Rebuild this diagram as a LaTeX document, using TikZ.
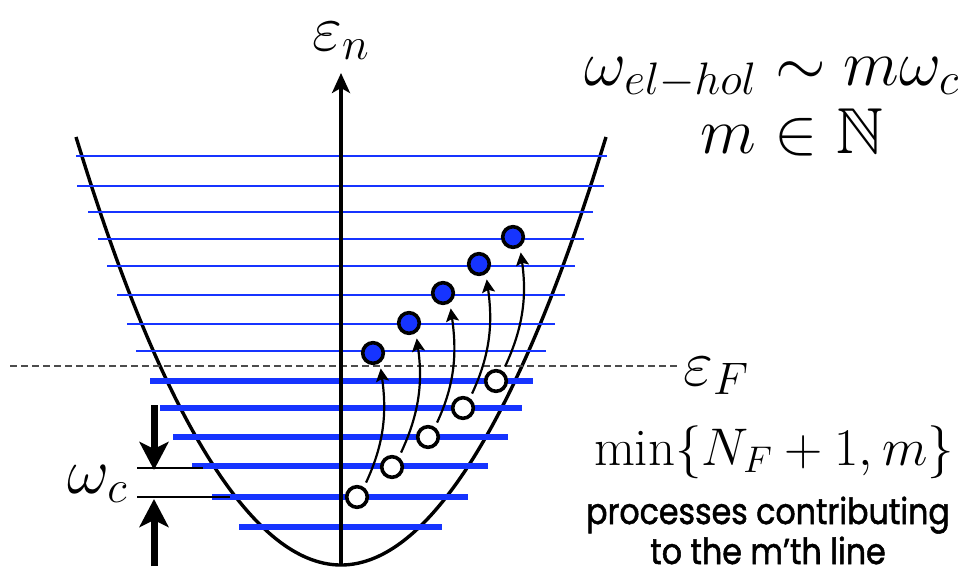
\RequirePackage{fix-cm}
\documentclass[tikz,border=0pt]{standalone}
\usepackage{amssymb}
\DeclareFontFamily{U}{msb}{}
\DeclareFontShape{U}{msb}{m}{n}{<-> msbm10}{}
\usepackage{fontspec}
\newfontfamily\procfont{Poppins}[FakeBold=1.4,FakeStretch=0.88]
\usetikzlibrary{arrows.meta}
\definecolor{lvl}{RGB}{22,52,255}
\tikzset{
  thinlvl/.style={lvl, line width=1.3pt},
  thicklvl/.style={lvl, line width=3.3pt},
  curve/.style={black, line width=1.7pt},
  axisline/.style={black, line width=1.7pt, -{Stealth[length=10pt,width=9pt,inset=2.5pt]}},
  fermi/.style={black!70, line width=0.6pt, dash pattern=on 3.5pt off 2pt},
  elec/.style={circle, draw=black, line width=1.8pt, fill=lvl, minimum size=10.3pt, inner sep=0pt},
  hole/.style={circle, draw=black, line width=1.8pt, fill=white, minimum size=10.3pt, inner sep=0pt},
  trans/.style={black, line width=1.1pt, -{Stealth[length=6.5pt,width=6.5pt,inset=1.3pt]}, shorten <=2.5pt, shorten >=2.8pt},
  bigarrow/.style={black, line width=3.5pt, -{Stealth[length=14pt,width=14.5pt,inset=3.5pt]}},
  bracketline/.style={black, line width=0.9pt},
  mathlbl/.style={inner sep=0pt, font=\fontsize{32.5}{39}\selectfont},
  minlbl/.style={inner sep=0pt, font=\fontsize{26.5}{32}\selectfont},
  sanslbl/.style={inner sep=0pt, font=\procfont\fontsize{18}{22}\selectfont},
}
\begin{document}
\begin{tikzpicture}[x=0.5pt,y=0.5pt]
\useasboundingbox (0,0) rectangle (967,-578);
% parabola
\coordinate (pl) at (76,-137);
\coordinate (pv) at (341,-565);
\coordinate (pr) at (606,-137);
\draw[curve] (pl) parabola bend (pv) (pr);
% Fermi level
\coordinate (fl) at (10,-366);
\coordinate (fr) at (677,-366);
\draw[fermi] (fl) -- (fr);
% thin (empty) levels
\foreach \y/\l/\r [count=\i] in {156/76/607,186/77/604,212/88/593,239/98/584,266/107/575,295/117/565,324/127/555,351/136/546}{
  \coordinate (tl\i) at (\l,-\y);
  \coordinate (tr\i) at (\r,-\y);
  \draw[thinlvl] (tl\i) -- (tr\i);
}
% thick (filled) levels
\foreach \y/\l/\r [count=\i] in {381/150/533,408/160/522,437/173/508,466/192/488,497/212/468,527/239/442}{
  \coordinate (kl\i) at (\l,-\y);
  \coordinate (kr\i) at (\r,-\y);
  \draw[thicklvl] (kl\i) -- (kr\i);
}
% axis
\coordinate (axb) at (341,-565);
\coordinate (axt) at (341,-73);
\draw[axisline] (axb) -- (axt);
% omega_c bracket
\coordinate (b1l) at (137,-468);
\coordinate (b1r) at (203,-468);
\coordinate (b2l) at (137,-497);
\coordinate (b2r) at (230,-497);
\draw[bracketline] (b1l) -- (b1r);
\draw[bracketline] (b2l) -- (b2r);
\coordinate (da) at (154,-405);
\coordinate (db) at (154,-470);
\coordinate (ua) at (154,-566);
\coordinate (ub) at (154,-499);
\draw[bigarrow] (da) -- (db);
\draw[bigarrow] (ua) -- (ub);
% electrons and holes
\node[elec] (e1) at (373,-353) {};
\node[elec] (e2) at (409,-323) {};
\node[elec] (e3) at (443,-293) {};
\node[elec] (e4) at (479,-264) {};
\node[elec] (e5) at (513,-237) {};
\node[hole] (h1) at (357,-497) {};
\node[hole] (h2) at (392,-467) {};
\node[hole] (h3) at (428,-437) {};
\node[hole] (h4) at (463,-408) {};
\node[hole] (h5) at (496,-381) {};
\foreach \i in {1,...,5}{
  \draw[trans] (h\i.55) to[out=65,in=-82] (e\i.-55);
}
% labels
\node[mathlbl, anchor=base] (en) at (341,-50) {$\varepsilon_n$};
\node[mathlbl, anchor=base] (weh) at (772,-85) {$\omega_{el-hol}\sim m\omega_c$};
\node[mathlbl, anchor=base] (mN) at (792,-153) {$m\in\mathbb{N}$};
\node[mathlbl, anchor=base west] (eF) at (683,-385) {$\varepsilon_F$};
\node[mathlbl, anchor=base east] (wc) at (128,-493) {$\omega_c$};
\node[minlbl, anchor=base] (mn) at (774,-465) {$\min\{N_F+1,m\}$};
\node[sanslbl, anchor=base] (p1) at (768,-524) {processes contributing};
\node[sanslbl, anchor=base] (p2) at (768,-564) {to the m’th line};
\end{tikzpicture}
\end{document}
